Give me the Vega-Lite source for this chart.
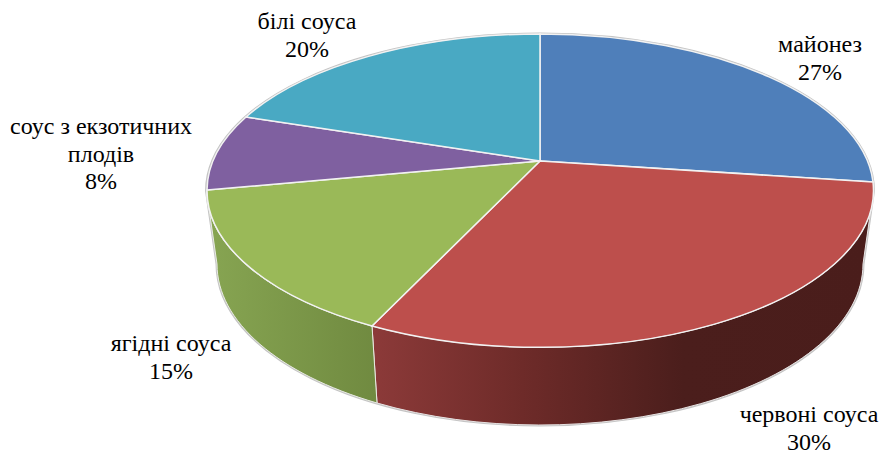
{
  "$schema": "https://vega.github.io/schema/vega-lite/v6.json",
  "width": 882,
  "height": 455,
  "padding": 0,
  "autosize": "none",
  "background": "white",
  "view": {"stroke": null},
  "config": {
    "text": {
      "font": "Liberation Serif",
      "fontSize": 24,
      "lineHeight": 27.5,
      "lineBreak": "\n",
      "align": "center",
      "baseline": "top",
      "color": "#000000"
    }
  },
  "datasets": {
    "sauces": [
      {"sauce": "майонез", "share": 27},
      {"sauce": "червоні соуса", "share": 30},
      {"sauce": "ягідні соуса", "share": 15},
      {"sauce": "соус з екзотичних\nплодів", "share": 8},
      {"sauce": "білі соуса", "share": 20}
    ]
  },
  "data": {"name": "sauces"},
  "transform": [{"calculate": "datum.sauce + '\\n' + datum.share + '%'", "as": "caption"}],
  "encoding": {
    "x": {"value": 540},
    "y": {"value": 161}
  },
  "layer": [
    {
      "description": "Faint grey rim around the whole tilted disc",
      "mark": {"type": "point", "filled": false, "stroke": "#c4c4c4", "strokeWidth": 3, "opacity": 1, "size": 4},
      "transform": [{"filter": "datum.share === 30"}],
      "encoding": {
        "shape": {"value": "M-333.5 30A333.5 157 0 0 1 333.5 30L323 103A323 161 0 0 1 -323 103Z"}
      }
    },
    {
      "description": "Side wall under the red slice",
      "transform": [{"filter": "datum.share === 30"}],
      "mark": {"type": "point", "filled": true, "opacity": 1, "size": 4, "stroke": "#e8e4e4", "strokeWidth": 1},
      "encoding": {
        "shape": {"value": "M-168 165A333.5 157 0 0 0 333.5 30L323 103A323 161 0 0 1 -163 242Z"},
        "fill": {"value": {"gradient": "linear", "x1": 0, "y1": 0, "x2": 1, "y2": 0, "stops": [
          {"offset": 0, "color": "#8c3a39"},
          {"offset": 0.3, "color": "#6e2b29"},
          {"offset": 0.62, "color": "#4b1e1c"},
          {"offset": 1, "color": "#4a1d1b"}
        ]}}
      }
    },
    {
      "description": "Side wall under the green slice",
      "transform": [{"filter": "datum.share === 15"}],
      "mark": {"type": "point", "filled": true, "opacity": 1, "size": 4, "stroke": "#e8ebe2", "strokeWidth": 1},
      "encoding": {
        "shape": {"value": "M-333.5 30L-323 103A323 161 0 0 0 -163 242L-168 165A333.5 157 0 0 1 -333.5 30Z"},
        "fill": {"value": {"gradient": "linear", "x1": 0, "y1": 0, "x2": 1, "y2": 0, "stops": [
          {"offset": 0, "color": "#87a552"},
          {"offset": 1, "color": "#708a40"}
        ]}}
      }
    },
    {
      "description": "Top face of the pie, one wedge per sauce",
      "mark": {"type": "point", "filled": true, "opacity": 1, "size": 4, "stroke": "#f2f2f2", "strokeWidth": 1.5},
      "encoding": {
        "shape": {
          "field": "sauce",
          "type": "nominal",
          "legend": null,
          "scale": {
            "domain": ["майонез", "червоні соуса", "ягідні соуса", "соус з екзотичних\nплодів", "білі соуса"],
            "range": [
              "M0 0L0 -127A333.5 157 0 0 1 333 21Z",
              "M0 0L333 21A333.5 157 0 0 1 -168 165Z",
              "M0 0L-168 165A333.5 157 0 0 1 -333 29Z",
              "M0 0L-333 29A333.5 157 0 0 1 -294 -44Z",
              "M0 0L-294 -44A333.5 157 0 0 1 0 -127Z"
            ]
          }
        },
        "fill": {
          "field": "sauce",
          "type": "nominal",
          "legend": null,
          "scale": {
            "domain": ["майонез", "червоні соуса", "ягідні соуса", "соус з екзотичних\nплодів", "білі соуса"],
            "range": ["#4f7fba", "#bd4f4c", "#9ab958", "#7f60a0", "#49a9c3"]
          }
        }
      }
    },
    {
      "transform": [{"filter": "datum.share === 27"}],
      "mark": "text",
      "encoding": {"text": {"field": "caption", "type": "nominal"}, "x": {"value": 820}, "y": {"value": 33}}
    },
    {
      "transform": [{"filter": "datum.share === 30"}],
      "mark": "text",
      "encoding": {"text": {"field": "caption", "type": "nominal"}, "x": {"value": 809}, "y": {"value": 403}}
    },
    {
      "transform": [{"filter": "datum.share === 15"}],
      "mark": "text",
      "encoding": {"text": {"field": "caption", "type": "nominal"}, "x": {"value": 171}, "y": {"value": 332}}
    },
    {
      "transform": [{"filter": "datum.share === 8"}],
      "mark": "text",
      "encoding": {"text": {"field": "caption", "type": "nominal"}, "x": {"value": 101}, "y": {"value": 115}}
    },
    {
      "transform": [{"filter": "datum.share === 20"}],
      "mark": "text",
      "encoding": {"text": {"field": "caption", "type": "nominal"}, "x": {"value": 307}, "y": {"value": 10}}
    }
  ]
}
